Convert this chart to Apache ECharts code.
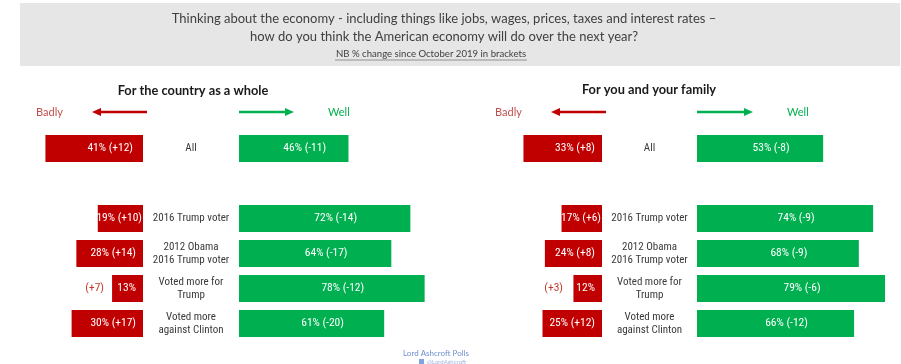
<!DOCTYPE html>
<html>
<head>
<meta charset="utf-8">
<script src="https://cdn.jsdelivr.net/npm/echarts@6/dist/echarts.min.js"></script>
<style>
  html, body { margin: 0; padding: 0; background: #ffffff; }
  #chart { width: 901px; height: 364px; }
</style>
</head>
<body>
<div id="chart"></div>
<script>
// Groups (rows); the empty entry leaves a gap under "All"
const categories = ['All', '', '2016 Trump voter', '2012 Obama\n2016 Trump voter', 'Voted more for\nTrump', 'Voted more\nagainst Clinton'];

// For the country as a whole
const countryBadly = [41, null, 19, 28, 13, 30];
const countryBadlyChange = ['+12', null, '+10', '+14', '+7', '+17'];
const countryWell = [46, null, 72, 64, 78, 61];
const countryWellChange = ['-11', null, '-14', '-17', '-12', '-20'];

// For you and your family
const familyBadly = [33, null, 17, 24, 12, 25];
const familyBadlyChange = ['+8', null, '+6', '+8', '+3', '+12'];
const familyWell = [53, null, 74, 68, 79, 66];
const familyWellChange = ['-8', null, '-9', '-9', '-6', '-12'];

const RED = '#c00000';
const GREEN = '#00b050';
const FONT = 'Lato';
const NARROW = '"Roboto Condensed", Lato';
const PX = 2.38;           // pixels per percentage point
const BAD_MAX = 50, WELL_MAX_L = 80, WELL_MAX_R = 85;
const TOP = 131, HEIGHT = 210;
const OUTSIDE_BELOW = 15;  // bars shorter than this print their change outside

// small bars carry their change outside, in red, to the left
function badLabel(changes) {
  return function (p) {
    const ch = changes[p.dataIndex];
    if (p.value < OUTSIDE_BELOW) return '{out|(' + ch + ')}    {in|' + p.value + '%}';
    return '{in|' + p.value + '% (' + ch + ')}';
  };
}
function wellLabel(changes) {
  return function (p) { return p.value + '% (' + changes[p.dataIndex] + ')'; };
}

const badLeftEdgeL = 143, wellLeftL = 239;
const badLeftEdgeR = 602, wellLeftR = 697;

const grids = [
  { left: badLeftEdgeL - BAD_MAX * PX, top: TOP, width: BAD_MAX * PX, height: HEIGHT },
  { left: wellLeftL, top: TOP, width: WELL_MAX_L * PX, height: HEIGHT },
  { left: badLeftEdgeR - BAD_MAX * PX, top: TOP, width: BAD_MAX * PX, height: HEIGHT },
  { left: wellLeftR, top: TOP, width: WELL_MAX_R * PX, height: HEIGHT }
];

const maxes = [BAD_MAX, WELL_MAX_L, BAD_MAX, WELL_MAX_R];
const xAxes = maxes.map((m, i) => ({
  type: 'value', gridIndex: i, min: 0, max: m, inverse: i % 2 === 0, show: false
}));

const centerL = (badLeftEdgeL + wellLeftL) / 2;
const centerR = (badLeftEdgeR + wellLeftR) / 2;
const yAxes = [0, 1, 2, 3].map(i => ({
  type: 'category', gridIndex: i, data: categories, inverse: true,
  axisLine: { show: false }, axisTick: { show: false },
  axisLabel: {
    show: i % 2 === 1,
    align: 'center',
    margin: i === 1 ? wellLeftL - centerL : wellLeftR - centerR,
    color: '#3a3a3a', fontFamily: NARROW, fontSize: 11, lineHeight: 13
  }
}));

const richBad = {
  in: { color: '#ffffff', fontFamily: NARROW, fontSize: 11.5 },
  out: { color: '#c0392b', fontFamily: NARROW, fontSize: 11.5 }
};

// bars just wide enough for their text keep it tight against the right end
function badItems(values) {
  return values.map(v => v == null ? null : {
    value: v, label: { distance: (v >= OUTSIDE_BELOW && v < 20) ? 1 : (v >= 40 ? 10 : 7) }
  });
}

function badSeries(data, changes, gi) {
  return {
    type: 'bar', xAxisIndex: gi, yAxisIndex: gi, data: badItems(data), barWidth: 27,
    itemStyle: { color: RED },
    label: { show: true, position: 'insideRight', distance: 7, formatter: badLabel(changes), rich: richBad }
  };
}
function wellSeries(data, changes, gi) {
  return {
    type: 'bar', xAxisIndex: gi, yAxisIndex: gi, data: data, barWidth: 27,
    itemStyle: { color: GREEN },
    label: { show: true, position: 'inside', offset: [11, 0], formatter: wellLabel(changes),
             color: '#ffffff', fontFamily: NARROW, fontSize: 11.5 }
  };
}

// header arrows beside the "Badly" / "Well" captions
function arrow(x1, x2, y, color, pointLeft) {
  const tip = pointLeft ? x1 : x2;
  const dir = pointLeft ? 1 : -1;
  return [
    { type: 'line', shape: { x1: pointLeft ? x1 + 6 : x1, y1: y, x2: pointLeft ? x2 : x2 - 6, y2: y },
      style: { stroke: color, lineWidth: 2.5 } },
    { type: 'polygon', shape: { points: [[tip, y], [tip + dir * 9, y - 4], [tip + dir * 9, y + 4]] },
      style: { fill: color } }
  ];
}

const textStyle = (color, size, weight) => ({ fill: color, font: (weight || 'normal') + ' ' + size + 'px ' + FONT });

const graphics = [
  { type: 'rect', shape: { x: 20, y: 3, width: 880, height: 63 }, style: { fill: '#e7e6e6' }, z: -10 },
  { type: 'text', x: 444, y: 19, style: Object.assign({ text: 'Thinking about the economy - including things like jobs, wages, prices, taxes and interest rates –', align: 'center', verticalAlign: 'middle' }, textStyle('#404040', 13)) },
  { type: 'text', x: 444, y: 37, style: Object.assign({ text: 'how do you think the American economy will do over the next year?', align: 'center', verticalAlign: 'middle' }, textStyle('#404040', 13)) },
  { type: 'text', x: 431, y: 54, style: Object.assign({ text: 'NB % change since October 2019 in brackets', align: 'center', verticalAlign: 'middle' }, textStyle('#404040', 9.6)) },
  { type: 'line', shape: { x1: 335, y1: 60, x2: 527, y2: 60 }, style: { stroke: '#6a6a6a', lineWidth: 0.7 } },

  { type: 'text', x: 193, y: 91, style: Object.assign({ text: 'For the country as a whole', align: 'center', verticalAlign: 'middle' }, textStyle('#1a1a1a', 12.8, 'bold')) },
  { type: 'text', x: 649, y: 90, style: Object.assign({ text: 'For you and your family', align: 'center', verticalAlign: 'middle' }, textStyle('#1a1a1a', 12.8, 'bold')) },

  { type: 'text', x: 36, y: 112, style: Object.assign({ text: 'Badly', align: 'left', verticalAlign: 'middle' }, textStyle('#c0504d', 11)) },
  { type: 'text', x: 328, y: 112, style: Object.assign({ text: 'Well', align: 'left', verticalAlign: 'middle' }, textStyle(GREEN, 11)) },
  { type: 'text', x: 495, y: 112, style: Object.assign({ text: 'Badly', align: 'left', verticalAlign: 'middle' }, textStyle('#c0504d', 11)) },
  { type: 'text', x: 787, y: 112, style: Object.assign({ text: 'Well', align: 'left', verticalAlign: 'middle' }, textStyle(GREEN, 11)) },

  ...arrow(92, 147, 112, RED, true),
  ...arrow(239, 294, 112, GREEN, false),
  ...arrow(551, 606, 112, RED, true),
  ...arrow(697, 753, 112, GREEN, false),

  { type: 'text', x: 436, y: 353, style: Object.assign({ text: 'Lord Ashcroft Polls', align: 'center', verticalAlign: 'middle' }, textStyle('#6f8fcf', 8)) },
  { type: 'rect', shape: { x: 419, y: 359, width: 5, height: 5 }, style: { fill: '#7fa4df' } },
  { type: 'text', x: 427, y: 362, style: Object.assign({ text: '@LordAshcroft', align: 'left', verticalAlign: 'middle' }, textStyle('#9fb3df', 6)) }
];

const chart = echarts.init(document.getElementById('chart'), null, { renderer: 'canvas' });
chart.setOption({
  animation: false,
  backgroundColor: '#ffffff',
  grid: grids,
  xAxis: xAxes,
  yAxis: yAxes,
  series: [
    badSeries(countryBadly, countryBadlyChange, 0),
    wellSeries(countryWell, countryWellChange, 1),
    badSeries(familyBadly, familyBadlyChange, 2),
    wellSeries(familyWell, familyWellChange, 3)
  ],
  graphic: graphics
});
</script>
</body>
</html>
